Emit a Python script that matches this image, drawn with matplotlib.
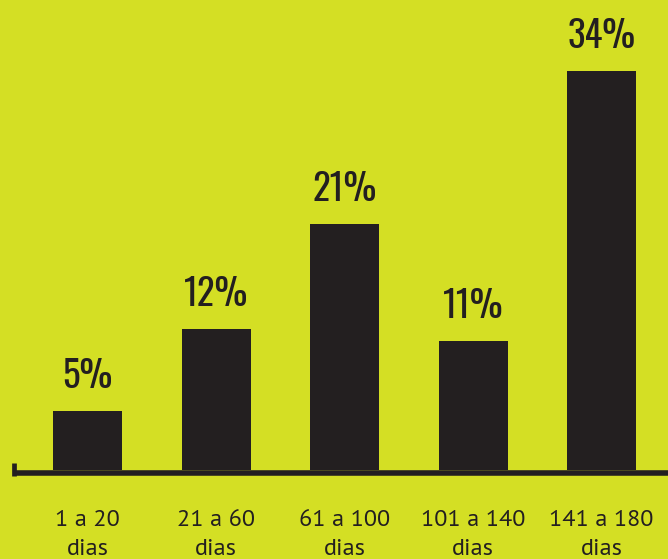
import matplotlib
matplotlib.use("Agg")
import matplotlib.pyplot as plt

# ---- data ----
categories = ["1 a 20\ndias", "21 a 60\ndias", "61 a 100\ndias", "101 a 140\ndias", "141 a 180\ndias"]
values = [5, 12, 21, 11, 34]
labels = ["5%", "12%", "21%", "11%", "34%"]

BG = "#d4df24"
INK = "#231f20"

W, H = 668, 559
fig = plt.figure(figsize=(W / 100, H / 100), dpi=100, facecolor=BG)

# axes: top of figure down to the baseline (y=470 px)
base_px = 470
ax = fig.add_axes([0, (H - base_px) / H, 1, base_px / H])
ax.set_facecolor(BG)
px_per_unit_y = 399 / 34
px_per_unit_x = 128.5
ax.set_ylim(0, base_px / px_per_unit_y)
ax.set_xlim(-87.5 / px_per_unit_x, (W - 87.5) / px_per_unit_x)
for s in ax.spines.values():
    s.set_visible(False)
ax.set_xticks([]); ax.set_yticks([])

x = list(range(len(values)))
ax.bar(x, values, width=69 / px_per_unit_x, color=INK, zorder=2)

for xi, v, lab in zip(x, values, labels):
    ax.text(xi, v + 23 / px_per_unit_y, lab, ha="center", va="baseline",
            fontsize=26.5, fontweight=500, family=["Oswald", "DejaVu Sans"],
            color=INK)

# baseline with small left tick
y_line = -2.5 / px_per_unit_y
ax.axhline(y_line, xmin=15 / W, xmax=1, color=INK, lw=4, clip_on=False, solid_capstyle="butt")
x_tick = (14.3 - 87.5) / px_per_unit_x
ax.vlines(x_tick, -5.5 / px_per_unit_y, 7 / px_per_unit_y, color=INK, lw=3.4, clip_on=False)

# category labels, one line at a time (baselines at 526 and 555 px)
for xi, cat in zip(x, categories):
    for k, line in enumerate(cat.split("\n")):
        ax.text(xi, -(56 + 29 * k) / px_per_unit_y, line, ha="center", va="baseline",
                fontsize=17.5, family=["PT Sans", "DejaVu Sans"], color=INK, clip_on=False)

fig.savefig("out.png", dpi=100, facecolor=BG)
